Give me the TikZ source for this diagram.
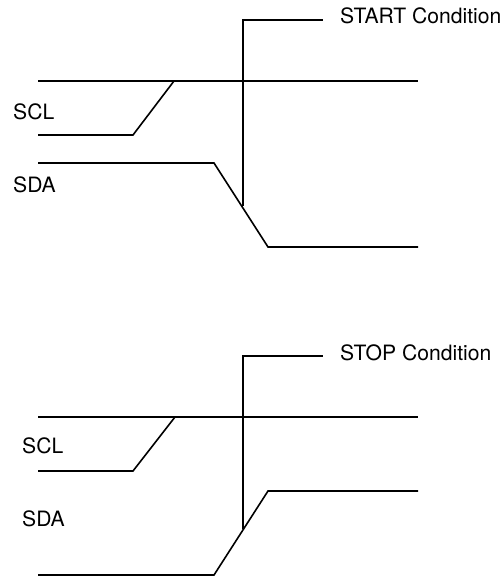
\documentclass[tikz,border=0pt]{standalone}
\usepackage{fontspec}
\setmainfont{TeX Gyre Heros}
\begin{document}
\begin{tikzpicture}[x=1bp,y=-1bp,
  wave/.style={line width=1.6bp,line join=miter},
  lbl/.style={inner sep=0pt,anchor=base west,font=\fontsize{21.2}{24}\selectfont}]
\useasboundingbox (0,0) rectangle (503,579);
% ---------- START condition ----------
\node[lbl] (scl1) at (13,120) {SCL};
\node[lbl] (sda1) at (13,192) {SDA};
\node[lbl] (start) at (340,24) {START Condition};
\draw[wave] (38,81) -- (418,81);
\draw[wave] (38,135) -- (133,135) -- (174,81);
\draw[wave] (38,163) -- (214,163) -- (268,247) -- (418,247);
\coordinate (m1) at (243,206);
\coordinate (t1) at (323,20);
\draw[wave] (m1) |- (t1);
% ---------- STOP condition ----------
\node[lbl] (scl2) at (22,453) {SCL};
\node[lbl] (sda2) at (22,526) {SDA};
\node[lbl] (stop) at (340,360) {STOP Condition};
\draw[wave] (38,417) -- (418,417);
\draw[wave] (38,471) -- (133,471) -- (175,417);
\draw[wave] (38,575) -- (214,575) -- (268,491) -- (418,491);
\coordinate (m2) at (243,529);
\coordinate (t2) at (323,356);
\draw[wave] (m2) |- (t2);
\end{tikzpicture}
\end{document}
